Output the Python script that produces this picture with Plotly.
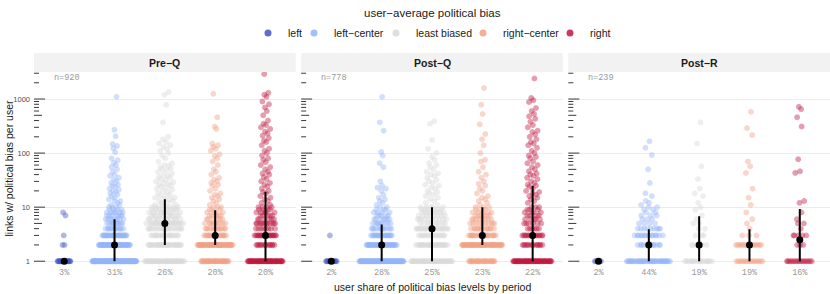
import numpy as np
import plotly.graph_objects as go

# ---------------- data ----------------
PERIODS = ["Pre\u2212Q", "Post\u2212Q", "Post\u2212R"]
PERIOD_N = [920, 778, 239]
BIAS_LEVELS = ["left", "left\u2212center", "least biased", "right\u2212center", "right"]
BIAS_COLORS = ["#4254c5", "#93b4f9", "#d9d9d9", "#f2a084", "#c0183f"]

SHARE_PREQ = ["3%", "31%", "26%", "20%", "20%"]
SHARE_POSTQ = ["2%", "28%", "25%", "23%", "22%"]
SHARE_POSTR = ["2%", "44%", "19%", "19%", "16%"]

# users per link count 1..10, then individual users with more links
LOW_VALUES = [1, 2, 3, 4, 5, 6, 7, 8, 9, 10]

PREQ_LEFT_LOW = [23, 2, 1, 0, 0, 0, 1, 1, 0, 0]
PREQ_LEFT_HIGH = []
PREQ_LC_LOW = [115, 55, 30, 12, 10, 8, 7, 6, 4, 3]
PREQ_LC_HIGH = [11, 11, 12, 13, 13, 14, 15, 16, 17, 18, 19, 20, 21, 22, 24, 25, 26, 28, 30, 32,
                35, 38, 40, 45, 50, 55, 60, 66, 74, 80, 104, 123, 135, 147, 205, 270, 1100]
PREQ_LB_LOW = [45, 30, 18, 20, 22, 12, 10, 9, 8, 7]
PREQ_LB_HIGH = [11, 11, 11, 12, 12, 13, 13, 14, 14, 15, 15, 16, 16, 17, 18, 19, 20, 21, 22, 23,
                24, 25, 26, 27, 28, 29, 30, 32, 33, 35, 36, 38, 40, 42, 45, 48, 50, 52, 55, 58,
                60, 65, 70, 80, 90, 100, 110, 120, 130, 140, 150, 160, 180, 200, 370, 780, 1200, 1350]
PREQ_RC_LOW = [35, 55, 18, 12, 10, 6, 5, 4, 3, 3]
PREQ_RC_HIGH = [11, 12, 13, 14, 15, 16, 17, 18, 20, 22, 25, 26, 28, 30, 32, 35, 40, 45, 50, 60,
                70, 80, 88, 95, 110, 120, 130, 140, 150, 280, 310, 460, 1250]
PREQ_R_LOW = [58, 14, 22, 8, 12, 6, 5, 5, 4, 4]
PREQ_R_HIGH = [11, 12, 13, 14, 15, 16, 18, 19, 20, 22, 24, 26, 28, 30, 33, 36, 40, 42, 45, 50,
               55, 60, 68, 75, 80, 90, 100, 110, 120, 140, 160, 170, 190, 210, 230, 250, 280, 300,
               330, 350, 400, 500, 600, 700, 800, 900, 1100, 1200, 1300, 2900]

POSTQ_LEFT_LOW = [15, 0, 1, 0, 0, 0, 0, 0, 0, 0]
POSTQ_LEFT_HIGH = []
POSTQ_LC_LOW = [95, 42, 20, 12, 9, 7, 5, 4, 3, 2]
POSTQ_LC_HIGH = [11, 12, 13, 14, 15, 17, 20, 22, 23, 25, 30, 55, 65, 90, 105, 260, 370, 1100]
POSTQ_LB_LOW = [50, 28, 16, 22, 10, 10, 8, 7, 6, 5]
POSTQ_LB_HIGH = [11, 12, 13, 14, 15, 16, 17, 18, 19, 20, 22, 23, 25, 26, 28, 30, 32, 35, 38, 40,
                 42, 45, 50, 55, 60, 65, 75, 85, 100, 120, 175, 350, 390]
POSTQ_RC_LOW = [27, 56, 22, 13, 10, 8, 6, 5, 3, 3]
POSTQ_RC_HIGH = [11, 12, 13, 14, 15, 16, 18, 20, 22, 25, 27, 30, 35, 40, 45, 55, 70, 75, 100, 140,
                 180, 225, 340, 530, 780, 1600]
POSTQ_R_LOW = [58, 14, 16, 6, 6, 5, 4, 4, 3, 3]
POSTQ_R_HIGH = [12, 13, 14, 15, 16, 17, 18, 19, 20, 22, 24, 25, 26, 28, 30, 33, 35, 38, 40, 42,
                46, 50, 55, 60, 65, 70, 80, 85, 90, 100, 110, 125, 140, 150, 160, 180, 200, 220,
                245, 260, 300, 330, 380, 430, 480, 530, 600, 680, 880, 950, 1050, 2400]

POSTR_LEFT_LOW = [5, 0, 0, 0, 0, 0, 0, 0, 0, 0]
POSTR_LEFT_HIGH = []
POSTR_LC_LOW = [43, 12, 15, 9, 4, 3, 3, 2, 2, 2]
POSTR_LC_HIGH = [11, 12, 13, 16, 18, 28, 50, 92, 125, 165]
POSTR_LB_LOW = [19, 7, 3, 2, 2, 1, 1, 0, 1, 1]
POSTR_LB_HIGH = [12, 16, 18, 22, 33, 57, 150, 370]
POSTR_RC_LOW = [15, 14, 3, 1, 1, 1, 0, 1, 0, 0]
POSTR_RC_HIGH = [11, 15, 22, 43, 57, 70, 215, 290, 580]
POSTR_R_LOW = [16, 3, 5, 1, 2, 1, 0, 1, 0, 0]
POSTR_R_HIGH = [12, 13, 43, 46, 77, 310, 460, 650, 720]

# summary: median and interval per bias level
PREQ_MED = [1, 2, 5, 3, 3]
PREQ_LO = [1, 1, 2, 2, 1]
PREQ_HI = [1, 6, 14, 8.8, 19]
POSTQ_MED = [1, 2, 4, 3, 3]
POSTQ_LO = [1, 1, 1, 2, 1]
POSTQ_HI = [1, 4.8, 10, 10, 25]
POSTR_MED = [1, 2, 2, 2, 2.5]
POSTR_LO = [1, 1, 1, 1, 1]
POSTR_HI = [1, 3.9, 6.8, 3.9, 9.2]

PANELS = [
    dict(low=[PREQ_LEFT_LOW, PREQ_LC_LOW, PREQ_LB_LOW, PREQ_RC_LOW, PREQ_R_LOW],
         high=[PREQ_LEFT_HIGH, PREQ_LC_HIGH, PREQ_LB_HIGH, PREQ_RC_HIGH, PREQ_R_HIGH],
         med=PREQ_MED, lo=PREQ_LO, hi=PREQ_HI, share=SHARE_PREQ),
    dict(low=[POSTQ_LEFT_LOW, POSTQ_LC_LOW, POSTQ_LB_LOW, POSTQ_RC_LOW, POSTQ_R_LOW],
         high=[POSTQ_LEFT_HIGH, POSTQ_LC_HIGH, POSTQ_LB_HIGH, POSTQ_RC_HIGH, POSTQ_R_HIGH],
         med=POSTQ_MED, lo=POSTQ_LO, hi=POSTQ_HI, share=SHARE_POSTQ),
    dict(low=[POSTR_LEFT_LOW, POSTR_LC_LOW, POSTR_LB_LOW, POSTR_RC_LOW, POSTR_R_LOW],
         high=[POSTR_LEFT_HIGH, POSTR_LC_HIGH, POSTR_LB_HIGH, POSTR_RC_HIGH, POSTR_R_HIGH],
         med=POSTR_MED, lo=POSTR_LO, hi=POSTR_HI, share=SHARE_POSTR),
]

# ---------------- layout geometry ----------------
W, H = 830, 294
ML, MR, MT, MB = 34, 0, 72, 29
PW, PH = W - ML - MR, H - MT - MB
PANEL_W = 261.7
GAP = (PW - 3 * PANEL_W) / 2
YRANGE = [-0.07, 3.5]
XRANGE = [0.4, 5.6]
STRIP_H = 19
LEGEND_DOT_PX = [268, 314, 396, 483, 570]   # horizontal placement of legend keys

SANS = "Liberation Sans, Arial, sans-serif"
MONO = "Liberation Mono, DejaVu Sans Mono, monospace"


def vdc(i, base=2):
    v, denom = 0.0, 1.0
    while i:
        denom *= base
        i, r = divmod(i, base)
        v += r / denom
    return v


def expand(low, high):
    vals = []
    for v, c in zip(LOW_VALUES, low):
        vals.extend([v] * c)
    vals.extend(high)
    return np.array(sorted(vals), dtype=float)


def quasirandom_offsets(vals, scale, bw=0.07, power=0.5):
    lv = np.log10(vals)
    d = np.exp(-0.5 * ((lv[:, None] - lv[None, :]) / bw) ** 2).sum(axis=1)
    hw = scale * (d / d.max()) ** power
    q = np.array([vdc(i + 1) for i in range(len(vals))])
    return (2 * q - 1) * hw


fig = go.Figure()
shapes, annotations = [], []

for p, panel in enumerate(PANELS):
    ax = "" if p == 0 else str(p + 1)
    xref, yref = "x" + ax, "y" + ax
    groups = [expand(lo_, hi_) for lo_, hi_ in zip(panel["low"], panel["high"])]
    nmax = max(len(g) for g in groups)
    for k, vals in enumerate(groups):
        if len(vals) == 0:
            continue
        scale = 0.45 * np.sqrt(len(vals) / nmax)
        xs = (k + 1) + quasirandom_offsets(vals, scale)
        fig.add_trace(go.Scatter(
            x=xs, y=vals, mode="markers", xaxis=xref, yaxis=yref,
            marker=dict(size=5, color=BIAS_COLORS[k], opacity=0.42,
                        line=dict(width=0.9, color=BIAS_COLORS[k])),
            showlegend=False, hoverinfo="skip"))
    # intervals
    lx, ly = [], []
    for k in range(5):
        lx += [k + 1, k + 1, None]
        ly += [panel["lo"][k], panel["hi"][k], None]
    fig.add_trace(go.Scatter(x=lx, y=ly, mode="lines", xaxis=xref, yaxis=yref,
                             line=dict(color="black", width=2), showlegend=False, hoverinfo="skip"))
    fig.add_trace(go.Scatter(x=list(range(1, 6)), y=panel["med"], mode="markers", xaxis=xref, yaxis=yref,
                             marker=dict(size=7, color="black"), showlegend=False, hoverinfo="skip"))

    x0 = p * (PANEL_W + GAP)
    dom = [x0 / PW, (x0 + PANEL_W) / PW]
    fig.layout["xaxis" + ax] = dict(
        domain=dom, range=XRANGE, anchor=yref, showgrid=False, zeroline=False, showline=False,
        tickvals=list(range(1, 6)), ticktext=panel["share"], ticks="",
        tickfont=dict(family=MONO, size=8.5, color="#9a9a9a"), fixedrange=True)
    fig.layout["yaxis" + ax] = dict(
        type="log", range=YRANGE, anchor=xref, showgrid=True, gridcolor="#ececec", gridwidth=1,
        zeroline=False, showline=False, tickvals=[1, 10, 100, 1000], ticktext=["1", "10", "100", "1000"],
        showticklabels=(p == 0), ticks="", ticklabelstandoff=3,
        tickfont=dict(family=SANS, size=7.5, color="#4d4d4d"), fixedrange=True)

    # strip
    shapes.append(dict(type="rect", xref=xref + " domain", yref="paper", x0=0, x1=1,
                       y0=1, y1=1 + STRIP_H / PH, fillcolor="#f2f2f2", line=dict(width=0), layer="below"))
    annotations.append(dict(text="<b>" + PERIODS[p] + "</b>", xref=xref + " domain", yref="paper",
                            x=0.5, y=1 + STRIP_H / 2 / PH, showarrow=False, xanchor="center", yanchor="middle",
                            font=dict(family=SANS, size=10.5, color="#1a1a1a")))
    annotations.append(dict(text="n=%d" % PERIOD_N[p], xref=xref + " domain", yref="paper",
                            x=18 / PANEL_W, y=1 - 6 / PH, showarrow=False, xanchor="left", yanchor="middle",
                            font=dict(family=MONO, size=8.5, color="#9a9a9a")))
    # log ticks (annotation_logticks style), positioned in data units of the log axis
    for dec in range(4):
        for m in range(1, 10):
            v = m * 10 ** dec
            if np.log10(v) > YRANGE[1]:
                continue
            ln = 11 if m == 1 else (8 if m == 5 else 5)
            shapes.append(dict(type="line", xref=xref + " domain", yref=yref, x0=0, x1=ln / PANEL_W,
                               y0=v, y1=v, line=dict(color="#3a3a3a", width=1)))

# legend entries: one small legend per bias level, so keys sit at the reference spacing
legend_layouts = {}
for k in range(5):
    lname = "legend" if k == 0 else "legend%d" % (k + 1)
    fig.add_trace(go.Scatter(x=[None], y=[None], mode="markers", name=BIAS_LEVELS[k], legend=lname,
                             marker=dict(size=7, color=BIAS_COLORS[k], opacity=0.85), showlegend=True))
    legend_layouts[lname] = dict(
        orientation="h", x=(LEGEND_DOT_PX[k] - 20 - ML) / PW, xanchor="left",
        y=(H - MB - 33) / PH, yanchor="middle", font=dict(family=SANS, size=10.5, color="#1a1a1a"),
        itemsizing="trace", bgcolor="rgba(0,0,0,0)", borderwidth=0)

annotations.append(dict(text="user\u2212average political bias", xref="paper", yref="paper",
                        x=0.5, y=(H - MB - 13) / PH, showarrow=False, xanchor="center", yanchor="middle",
                        font=dict(family=SANS, size=11.5, color="#1a1a1a")))
annotations.append(dict(text="user share of political bias levels by period", xref="paper", yref="paper",
                        x=0.5, y=(H - MB - 287) / PH, showarrow=False, xanchor="center", yanchor="middle",
                        font=dict(family=SANS, size=10.5, color="#1a1a1a")))
annotations.append(dict(text="links w/ political bias per user", xref="paper", yref="paper",
                        x=(8 - ML) / PW, y=0.5, showarrow=False, xanchor="center", yanchor="middle",
                        textangle=-90, font=dict(family=SANS, size=10.5, color="#1a1a1a")))

fig.update_layout(
    width=W, height=H, margin=dict(l=ML, r=MR, t=MT, b=MB, autoexpand=False),
    paper_bgcolor="white", plot_bgcolor="white",
    font=dict(family=SANS, color="#1a1a1a"),
    shapes=shapes, annotations=annotations,
    **legend_layouts,
)

fig.write_html("out.html", config={"displayModeBar": False},
               post_script="document.body.style.margin='0';document.body.style.overflow='hidden';")
